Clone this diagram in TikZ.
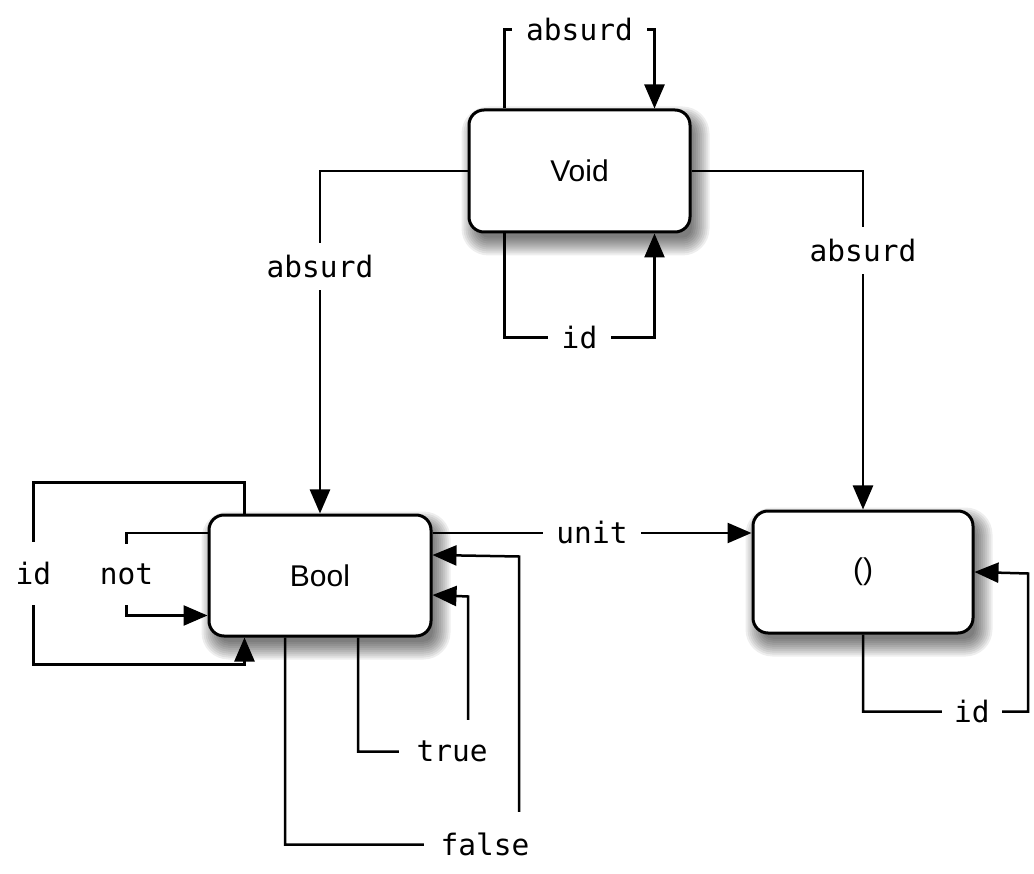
\documentclass[tikz,border=0pt]{standalone}
\usepackage{fontspec}
\newfontfamily\boxfont{Liberation Sans}
\newfontfamily\labfont{DejaVu Sans Mono}
\usetikzlibrary{arrows.meta,backgrounds,calc}
\begin{document}
\begin{tikzpicture}[x=1pt,y=-1pt,
  box/.style={draw, line width=3pt, rounded corners=15pt, fill=white,
    minimum width=221pt, minimum height=122pt, inner sep=0pt,
    font=\boxfont\fontsize{30}{35}\selectfont},
  conn/.style={line width=2.5pt, -{Triangle[length=24pt,width=20pt]}},
  lbl/.style={fill=white, inner xsep=14pt, inner ysep=12pt,
    font=\labfont\fontsize{29.5}{35}\selectfont},
]
\useasboundingbox (0,0) rectangle (1034,874);

% boxes
\node[box] (v) at (579.5,171) {Void};
\node[box, minimum width=222pt, minimum height=121pt] (b) at (320,575.5) {Bool};
\node[box, minimum width=220pt] (u) at (863,572) {()};

% background and soft shadows
\begin{scope}[on background layer]
  \fill[white] (0,0) rectangle (1034,874);
  \foreach \nd in {v,b,u} {
    \foreach \e [evaluate=\e as \xa using 6-\e,
                 evaluate=\e as \ya using -10+\e,
                 evaluate=\e as \xb using 6+\e,
                 evaluate=\e as \yb using -10-\e,
                 evaluate=\e as \r using {15+\e}] in {-6,-4,...,12} {
      \fill[black, opacity=0.065, rounded corners=\r pt]
        ([shift={(\xa pt,\ya pt)}]\nd.north west) rectangle
        ([shift={(\xb pt,\yb pt)}]\nd.south east);
    }
  }
\end{scope}

% Void self loops
\draw[conn] ([xshift=37pt]v.north west) -- ++(0,-79)
  -| node[lbl,pos=0.25]{absurd} ([xshift=-37pt]v.north east);
\draw[conn] ([xshift=37pt]v.south west) -- ++(0,104)
  -| node[lbl,pos=0.25]{id} ([xshift=-37pt]v.south east);

% Void to Bool and ()
\draw[conn] (v.west) -| node[lbl,pos=0.64]{absurd} (b.north);
\draw[conn] (v.east) -| node[lbl,pos=0.618]{absurd} (u.north);

% Bool to ()
\coordinate (ua) at ([yshift=42.5pt]b.east);
\draw[conn] (ua) -- node[lbl, inner xsep=13pt]{unit} (ua -| u.west);

% Bool id loop
\draw[conn] ([xshift=37pt]b.north west) -- ++(0,-31) -- ++(-211,0)
  -- node[lbl, inner ysep=20pt]{id} ++(0,182) -| ([xshift=37pt]b.south west);

% Bool not loop
\draw[conn] ([yshift=42.5pt]b.west) -- ++(-81,0)
  -- node[lbl, inner ysep=20pt]{not} ++(0,82.5) -- ([yshift=-40pt]b.west);

% true
\draw[conn] ([xshift=38pt]b.south) -- ++(0,114)
  -- node[lbl, pos=0.855, inner xsep=18pt, inner ysep=21pt]{true} ++(110,0)
  -- ++(0,-155) -- ([yshift=-19.5pt]b.east);

% false
\draw[conn] ([xshift=-35pt]b.south) -- ++(0,207)
  -- node[lbl, pos=0.855, inner xsep=17pt, inner ysep=21pt]{false} ++(234,0)
  -- ++(0,-288) -- ([yshift=20.5pt]b.east);

% () id loop
\draw[conn] (u.south) -- ++(0,77)
  -- node[lbl, pos=0.66, inner xsep=12pt]{id} ++(165,0)
  -- ++(0,-138) -- (u.east);
\end{tikzpicture}
\end{document}
